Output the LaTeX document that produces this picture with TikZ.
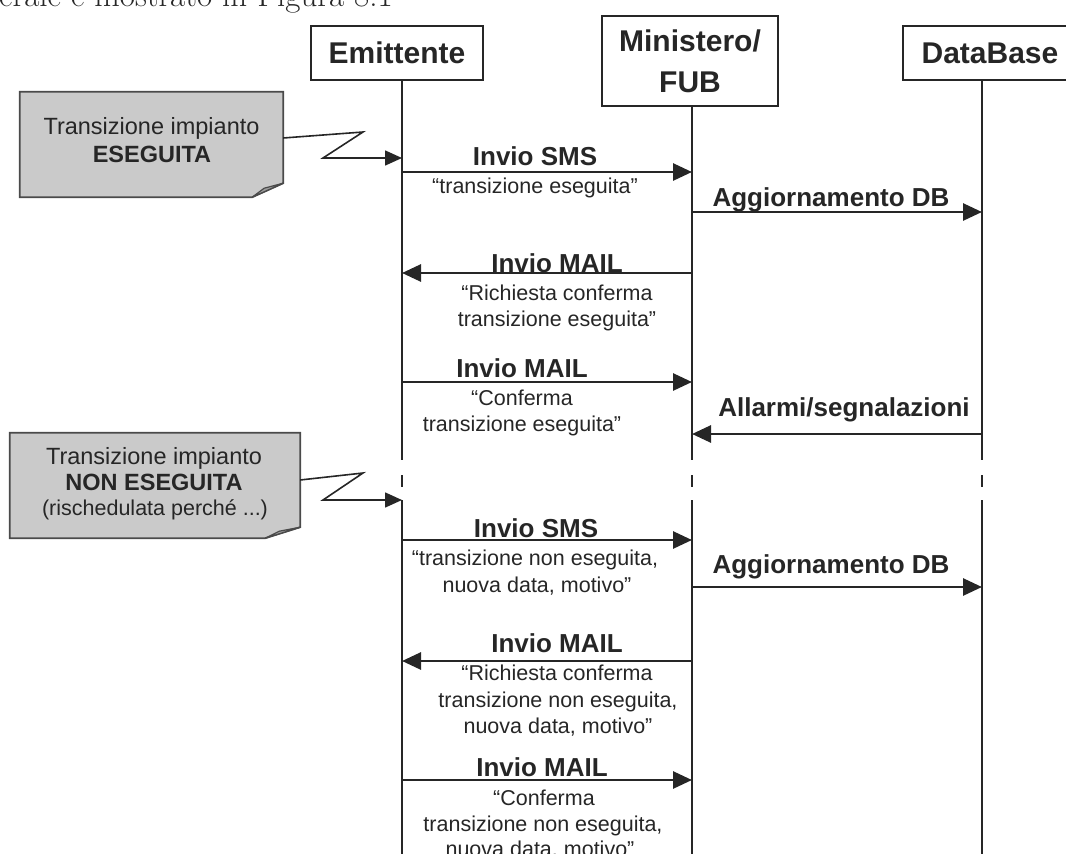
\documentclass[tikz,border=0pt]{standalone}
\usepackage{fontspec}
\setsansfont{Liberation Sans}
\usetikzlibrary{arrows.meta,calc}
\definecolor{ink}{HTML}{262626}
\definecolor{notefill}{HTML}{CACACA}
\definecolor{flapfill}{HTML}{9C9C9C}
\definecolor{noteedge}{HTML}{4A4A4A}
\begin{document}
\begin{tikzpicture}[x=1pt,y=-1pt,
  head/.style={draw=ink, line width=2pt, fill=white, text=ink, inner sep=0pt,
    font=\sffamily\bfseries\fontsize{30}{41}\selectfont},
  lbl/.style={inner sep=0pt, anchor=base, text=ink,
    font=\sffamily\bfseries\fontsize{26}{30}\selectfont},
  txt/.style={inner sep=0pt, anchor=base, text=ink,
    font=\sffamily\fontsize{21.5}{26}\selectfont},
  notetxt/.style={inner sep=0pt, anchor=base, text=ink,
    font=\sffamily\fontsize{23.5}{28}\selectfont},
  notesmall/.style={inner sep=0pt, anchor=base, text=ink,
    font=\sffamily\fontsize{21.5}{26}\selectfont},
  notebox/.style={inner sep=0pt, draw=none},
  noteshape/.style={fill=notefill, draw=noteedge, line width=1.8pt, line join=miter},
  flapshape/.style={fill=flapfill, draw=noteedge, line width=1.2pt, line join=round},
  life/.style={draw=ink, line width=1.8pt},
  msg/.style={draw=ink, line width=2.8pt, -{Triangle[length=19pt,width=17pt]}},
  callout/.style={draw=ink, line width=1.6pt, line join=miter, -{Triangle[length=17pt,width=15pt]}}
]
\useasboundingbox (0,0) rectangle (1066,854);
\clip (0,0) rectangle (1066,854);

% page text cut at the top
\node[anchor=base west, inner sep=0pt, text=ink, font=\fontsize{33}{36}\selectfont] (pagetext) at (-1,6) {erale è mostrato in Figura 8.1};

% lifeline heads
\node[head, minimum width=172pt, minimum height=54pt] (emit) at (397,53) {Emittente};
\node[head, minimum width=176pt, minimum height=90pt, align=center] (mini) at (690,61) {Ministero/\\FUB};
\node[head, minimum width=174pt, minimum height=54pt] (db) at (990,53) {DataBase};

% lifeline coordinates
\foreach \n/\y in {n1/158, s1/172, a1/212, m1/273, m2/382, al/434, n2/500, s2/540, a2/587, m3/661, m4/780}{
  \coordinate (E\n) at (402,\y);
  \coordinate (M\n) at (692,\y);
  \coordinate (D\n) at (982,\y);
}
\foreach \L/\x in {E/402, M/692, D/982}{
  \coordinate (\L a) at (\x,460);
  \coordinate (\L b) at (\x,475);
  \coordinate (\L c) at (\x,487);
  \coordinate (\L d) at (\x,500);
  \coordinate (\L z) at (\x,862);
}

% lifelines with a break
\draw[life] (emit.south -| Ea) -- (Ea) (Eb) -- (Ec) (Ed) -- (Ez);
\draw[life] (mini.south -| Ma) -- (Ma) (Mb) -- (Mc) (Md) -- (Mz);
\draw[life] (db.south -| Da) -- (Da) (Db) -- (Dc) (Dd) -- (Dz);

% notes
\node[notebox, minimum width=263pt, minimum height=105pt] (note1) at (151.5,144.5) {};
\filldraw[noteshape] (note1.north west) -- (note1.north east) -- ($(note1.south east)+(0,-14)$)
  -- ($(note1.south east)+(-31,0)$) -- (note1.south west) -- cycle;
\filldraw[flapshape] ($(note1.south east)+(-31,0)$) -- ($(note1.south east)+(-19,-9)$) -- ($(note1.south east)+(0,-14)$) -- cycle;
\node[notetxt] (note1a) at (151.5,134) {Transizione impianto};
\node[notetxt, font=\sffamily\bfseries\fontsize{23.5}{28}\selectfont] (note1b) at (152,162) {ESEGUITA};

\node[notebox, minimum width=290pt, minimum height=105pt] (note2) at (155,485.5) {};
\filldraw[noteshape] (note2.north west) -- (note2.north east) -- ($(note2.south east)+(0,-11)$)
  -- ($(note2.south east)+(-35,0)$) -- (note2.south west) -- cycle;
\filldraw[flapshape] ($(note2.south east)+(-35,0)$) -- ($(note2.south east)+(-21,-7)$) -- ($(note2.south east)+(0,-11)$) -- cycle;
\node[notetxt] (note2a) at (154,464) {Transizione impianto};
\node[notetxt, font=\sffamily\bfseries\fontsize{23.5}{28}\selectfont] (note2b) at (154,490) {NON ESEGUITA};
\node[notesmall] (note2c) at (155,515.5) {(rischedulata perché ...)};

% callouts
\draw[callout] ($(note1.east)+(0,-6.5)$) -- (363,132) -- (323,158) -- (En1);
\draw[callout] ($(note2.east)+(0,-5.5)$) -- (363,473) -- (323,500) -- (En2);

% messages, first block
\draw[msg] (Es1) -- (Ms1);
\node[lbl] (ls1) at (535,165) {Invio SMS};
\node[txt] (ts1) at (535,193) {“transizione eseguita”};

\draw[msg] (Ma1) -- (Da1);
\node[lbl] (la1) at (831,206) {Aggiornamento DB};

\draw[msg] (Mm1) -- (Em1);
\node[lbl] (lm1) at (557,272) {Invio MAIL};
\node[txt] (tm1a) at (557,300) {“Richiesta conferma};
\node[txt] (tm1b) at (557,326) {transizione eseguita”};

\draw[msg] (Em2) -- (Mm2);
\node[lbl] (lm2) at (522,377) {Invio MAIL};
\node[txt] (tm2a) at (522,405) {“Conferma};
\node[txt] (tm2b) at (522,431) {transizione eseguita”};

\draw[msg] (Dal) -- (Mal);
\node[lbl] (lal) at (844,416) {Allarmi/segnalazioni};

% messages, second block
\draw[msg] (Es2) -- (Ms2);
\node[lbl] (ls2) at (536,537) {Invio SMS};
\node[txt] (ts2a) at (535,565) {“transizione non eseguita,};
\node[txt] (ts2b) at (537,592) {nuova data, motivo”};

\draw[msg] (Ma2) -- (Da2);
\node[lbl] (la2) at (831,573) {Aggiornamento DB};

\draw[msg] (Mm3) -- (Em3);
\node[lbl] (lm3) at (557,652) {Invio MAIL};
\node[txt] (tm3a) at (557,680) {“Richiesta conferma};
\node[txt] (tm3b) at (558,707) {transizione non eseguita,};
\node[txt] (tm3c) at (558,733) {nuova data, motivo”};

\draw[msg] (Em4) -- (Mm4);
\node[lbl] (lm4) at (542,776) {Invio MAIL};
\node[txt] (tm4a) at (544,805) {“Conferma};
\node[txt] (tm4b) at (543,831) {transizione non eseguita,};
\node[txt] (tm4c) at (540,856) {nuova data, motivo”};
\end{tikzpicture}
\end{document}
